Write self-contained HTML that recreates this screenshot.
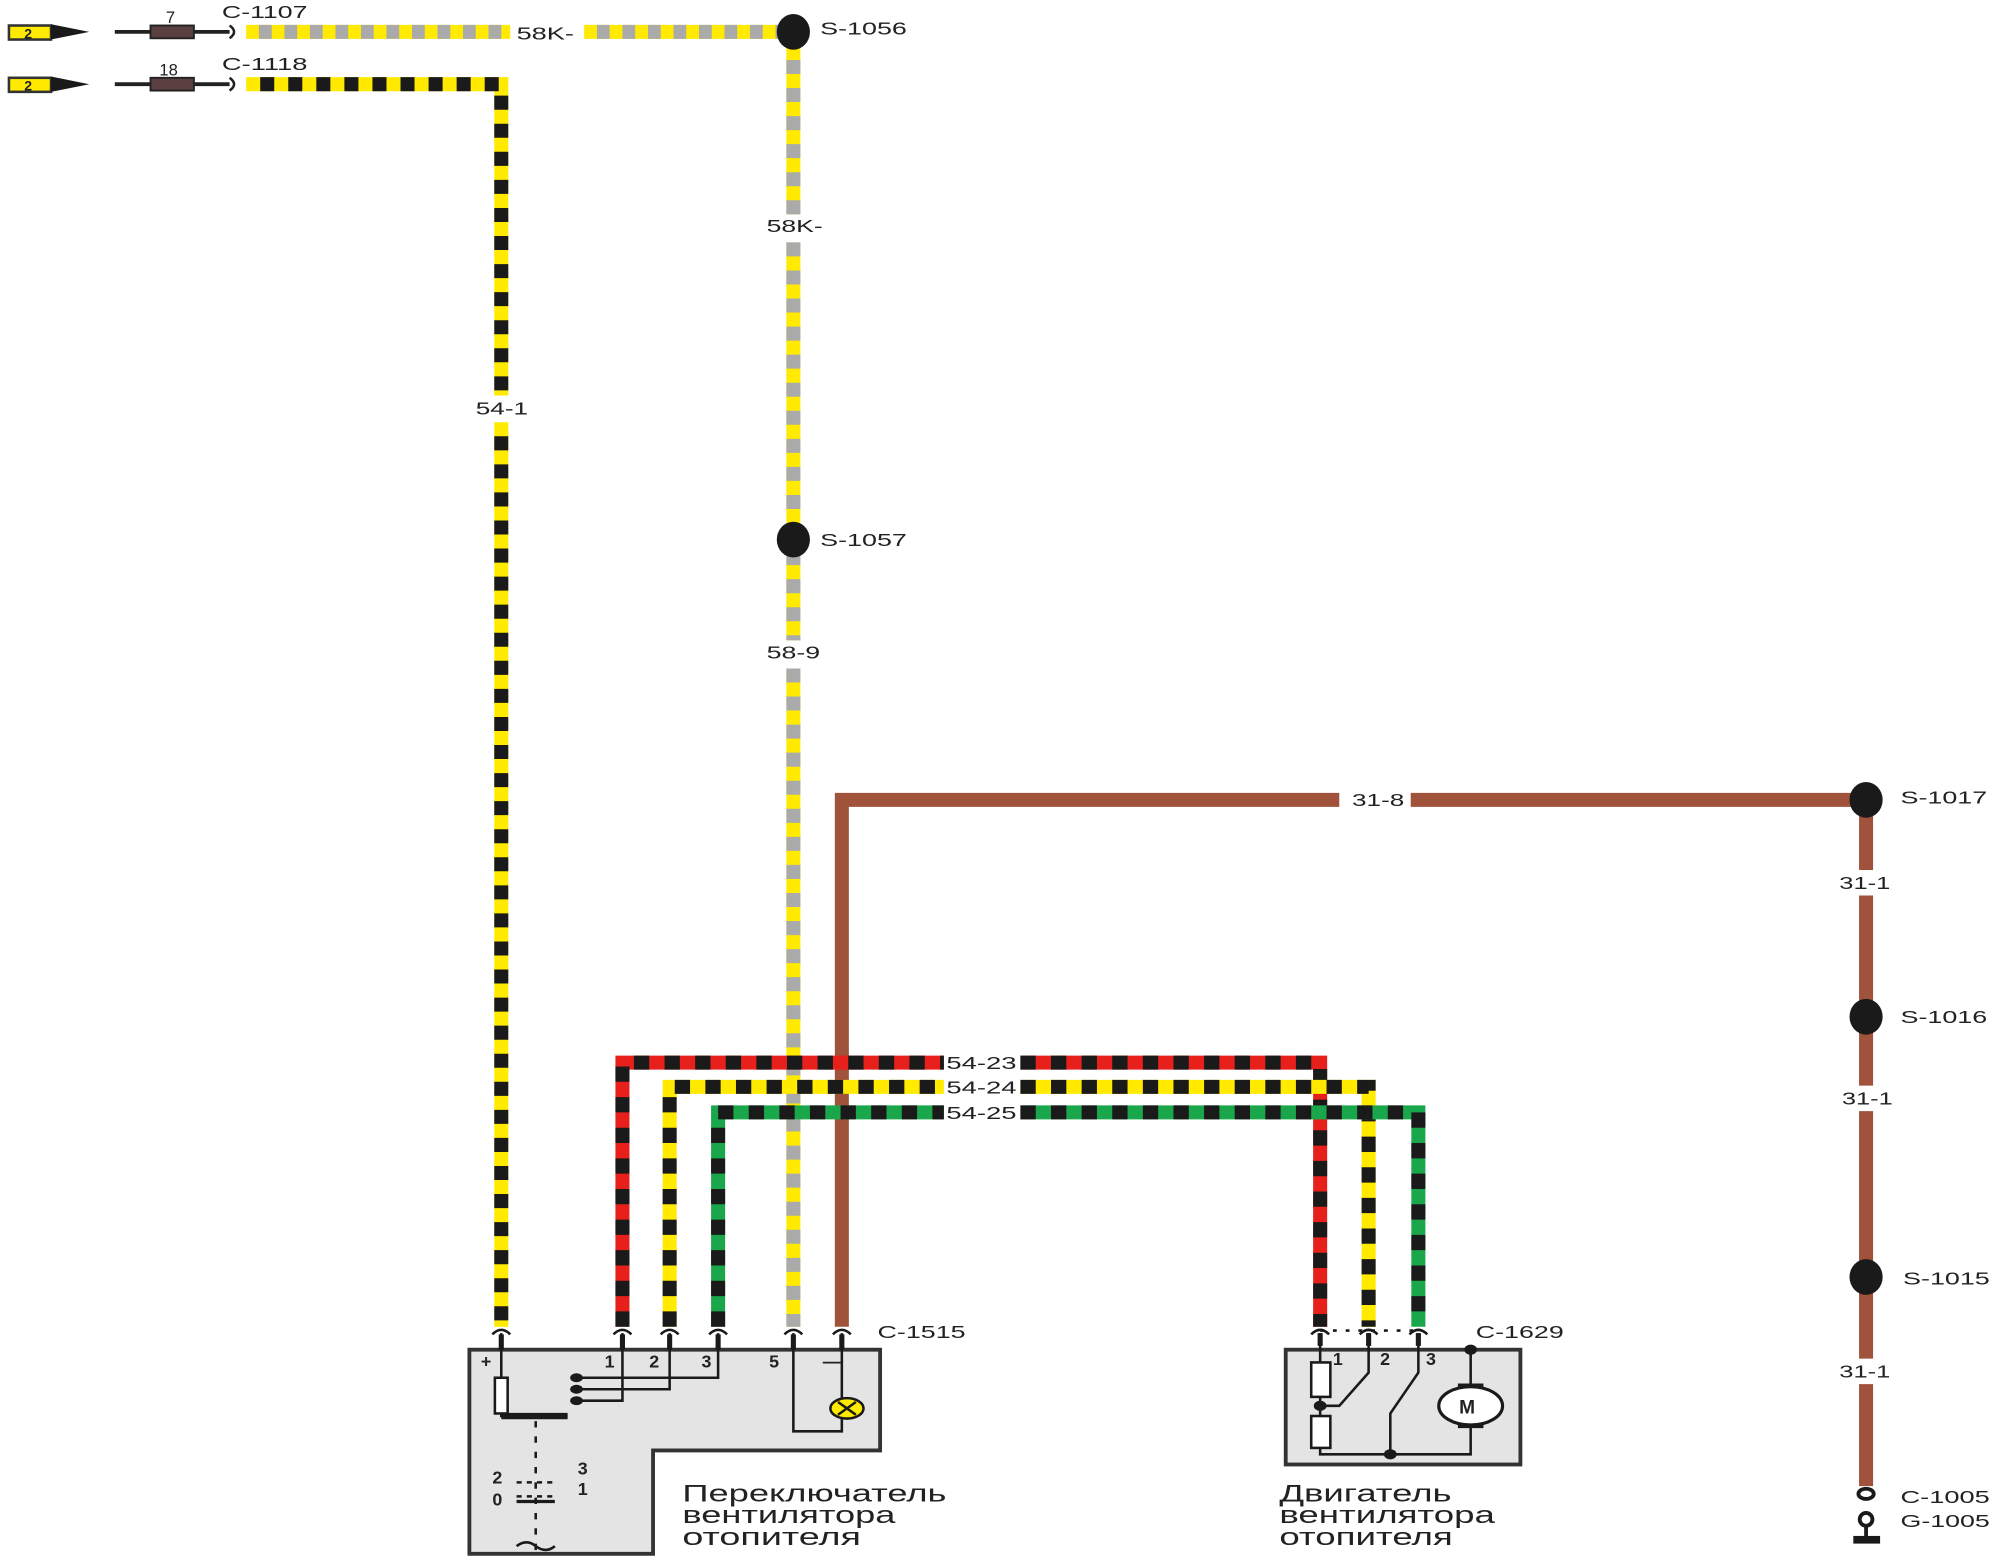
<!DOCTYPE html>
<html><head><meta charset="utf-8"><style>
html,body{margin:0;padding:0;background:#fff;}
svg{display:block;}
text{font-family:"Liberation Sans",Arial,sans-serif;fill:#222;}
</style></head><body>
<svg width="2000" height="1564" viewBox="0 0 1568 1226" preserveAspectRatio="none" xmlns="http://www.w3.org/2000/svg">
<rect width="1568" height="1226" fill="#fff"/>
<g fill="none" stroke-width="11" stroke-linejoin="miter">
<path d="M193 25 H400 M458 25 H612" stroke="#ffea00"/>
<path d="M193 25 H400 M458 25 H612" stroke="#aaa" stroke-dasharray="10 10" stroke-dashoffset="-10"/>
<path d="M193 66 H393 V310 M393 331 V1040" stroke="#ffea00"/>
<path d="M193 66 H393 V310 M393 331 V1040" stroke="#1a1a1a" stroke-dasharray="11 11" stroke-dashoffset="-11"/>
<path d="M622 25 V168 M622 190 V502 M622 524 V1040" stroke="#ffea00"/>
<path d="M622 25 V168 M622 190 V502 M622 524 V1040" stroke="#aaa" stroke-dasharray="11 11"/>
<path d="M660 1040 V627 H1050 M1106 627 H1463 V682 M1463 702 V851 M1463 871 V1065 M1463 1085 V1165" stroke="#a0523a"/>
<path d="M488 1040 V833 H740 M800 833 H1035 V1040" stroke="#e8201c"/>
<path d="M488 1040 V833 H740 M800 833 H1035 V1040" stroke="#1a1a1a" stroke-dasharray="12 12"/>
<path d="M525 1040 V852 H740 M800 852 H1073 V1040" stroke="#ffea00"/>
<path d="M525 1040 V852 H740 M800 852 H1073 V1040" stroke="#1a1a1a" stroke-dasharray="12 12"/>
<path d="M563 1040 V872 H740 M800 872 H1112 V1040" stroke="#1aa64a"/>
<path d="M563 1040 V872 H740 M800 872 H1112 V1040" stroke="#1a1a1a" stroke-dasharray="12 12"/>
</g>
<g fill="#1a1a1a">
<ellipse cx="622" cy="25" rx="13" ry="14"/>
<ellipse cx="622" cy="423" rx="13" ry="14"/>
<ellipse cx="1463" cy="627" rx="13" ry="14"/>
<ellipse cx="1463" cy="797" rx="13" ry="14"/>
<ellipse cx="1463" cy="1001" rx="13" ry="14"/>
</g>
<ellipse cx="1463" cy="1171" rx="6" ry="4" fill="#fff" stroke="#1a1a1a" stroke-width="3"/>
<circle cx="1463" cy="1191" r="5" fill="#fff" stroke="#1a1a1a" stroke-width="3"/>
<path d="M1463 1196 V1205" stroke="#1a1a1a" stroke-width="3"/>
<rect x="1453" y="1204" width="21" height="6" fill="#1a1a1a"/>
<g>
<rect x="7" y="20" width="33" height="11" fill="#ffea00" stroke="#333" stroke-width="2"/>
<path d="M40 19 L70 25 L40 31 Z" fill="#1a1a1a"/>
<text x="19" y="30" font-size="11" font-weight="bold">2</text>
<rect x="7" y="61" width="33" height="11" fill="#ffea00" stroke="#333" stroke-width="2"/>
<path d="M40 60 L70 66 L40 72 Z" fill="#1a1a1a"/>
<text x="19" y="71" font-size="11" font-weight="bold">2</text>
<path d="M90 25 H180 M90 66 H180" stroke="#222" stroke-width="3"/>
<rect x="118" y="20" width="34" height="10" fill="#5a4040" stroke="#222" stroke-width="1.5"/>
<rect x="118" y="61" width="34" height="10" fill="#5a4040" stroke="#222" stroke-width="1.5"/>
<path d="M180 20 Q187 25 180 30 M180 61 Q187 66 180 71" fill="none" stroke="#222" stroke-width="2"/>
</g>
<g font-size="14" lengthAdjust="spacingAndGlyphs">
<text x="130" y="18" font-size="13">7</text>
<text x="125" y="59" font-size="13">18</text>
<text x="174" y="14" textLength="67" lengthAdjust="spacingAndGlyphs">C-1107</text>
<text x="174" y="55" textLength="67" lengthAdjust="spacingAndGlyphs">C-1118</text>
<text x="405" y="31" textLength="45" lengthAdjust="spacingAndGlyphs">58K-</text>
<text x="643" y="27" textLength="68" lengthAdjust="spacingAndGlyphs">S-1056</text>
<text x="601" y="182" textLength="44" lengthAdjust="spacingAndGlyphs">58K-</text>
<text x="643" y="428" textLength="68" lengthAdjust="spacingAndGlyphs">S-1057</text>
<text x="601" y="516" textLength="42" lengthAdjust="spacingAndGlyphs">58-9</text>
<text x="373" y="325" textLength="41" lengthAdjust="spacingAndGlyphs">54-1</text>
<text x="1060" y="632" textLength="41" lengthAdjust="spacingAndGlyphs">31-8</text>
<text x="1490" y="630" textLength="68" lengthAdjust="spacingAndGlyphs">S-1017</text>
<text x="1442" y="697" textLength="40" lengthAdjust="spacingAndGlyphs">31-1</text>
<text x="1490" y="802" textLength="68" lengthAdjust="spacingAndGlyphs">S-1016</text>
<text x="1444" y="866" textLength="40" lengthAdjust="spacingAndGlyphs">31-1</text>
<text x="1492" y="1007" textLength="68" lengthAdjust="spacingAndGlyphs">S-1015</text>
<text x="1442" y="1080" textLength="40" lengthAdjust="spacingAndGlyphs">31-1</text>
<text x="1490" y="1178" textLength="70" lengthAdjust="spacingAndGlyphs">C-1005</text>
<text x="1490" y="1197" textLength="70" lengthAdjust="spacingAndGlyphs">G-1005</text>
<text x="742" y="838" textLength="55" lengthAdjust="spacingAndGlyphs">54-23</text>
<text x="742" y="857" textLength="55" lengthAdjust="spacingAndGlyphs">54-24</text>
<text x="742" y="877" textLength="55" lengthAdjust="spacingAndGlyphs">54-25</text>
<text x="688" y="1049" textLength="69" lengthAdjust="spacingAndGlyphs">C-1515</text>
<text x="1157" y="1049" textLength="69" lengthAdjust="spacingAndGlyphs">C-1629</text>
</g>
<path d="M368 1058 H690 V1137 H512 V1218 H368 Z" fill="#e4e4e4" stroke="#333" stroke-width="3"/>
<g stroke="#1a1a1a" stroke-width="2" fill="none">
<path d="M393 1045 V1110 H445"/>
<path d="M488 1045 V1098 H455 M525 1045 V1089 H455 M563 1045 V1080 H455"/>
<path d="M622 1045 V1122 H660 V1045"/>
</g>
<path d="M393 1110 H445" stroke="#1a1a1a" stroke-width="5"/>
<rect x="388" y="1080" width="10" height="28" fill="#fff" stroke="#1a1a1a" stroke-width="2"/>
<g fill="#1a1a1a"><ellipse cx="452" cy="1080" rx="5" ry="3.5"/><ellipse cx="452" cy="1089" rx="5" ry="3.5"/><ellipse cx="452" cy="1098" rx="5" ry="3.5"/></g>
<ellipse cx="664" cy="1104" rx="13" ry="8" fill="#ffea00" stroke="#1a1a1a" stroke-width="2"/>
<path d="M657 1099 L671 1109 M671 1099 L657 1109" stroke="#1a1a1a" stroke-width="2"/>
<path d="M420 1114 V1215" stroke="#1a1a1a" stroke-width="2" stroke-dasharray="5 7"/>
<path d="M405 1173 H435 M405 1162 H435" stroke="#1a1a1a" stroke-width="2" stroke-dasharray="4 4"/>
<path d="M405 1177 H435" stroke="#1a1a1a" stroke-width="2.5"/>
<path d="M405 1212 Q413 1206 420 1212 Q428 1218 435 1212" stroke="#1a1a1a" stroke-width="2" fill="none"/>
<g font-size="14" font-weight="bold">
<text x="377" y="1072">+</text><text x="474" y="1072">1</text><text x="509" y="1072">2</text><text x="550" y="1072">3</text><text x="603" y="1072">5</text><text x="645" y="1072">—</text>
<text x="386" y="1163">2</text><text x="386" y="1180">0</text><text x="453" y="1156">3</text><text x="453" y="1172">1</text>
</g>
<rect x="1008" y="1058" width="184" height="90" fill="#e4e4e4" stroke="#333" stroke-width="3"/>
<path d="M1035 1045 V1055 M1073 1045 V1055 M1112 1045 V1055" stroke="#1a1a1a" stroke-width="4"/>
<path d="M1035 1043 H1112" stroke="#1a1a1a" stroke-width="2" stroke-dasharray="3 7"/>
<g stroke="#1a1a1a" stroke-width="2" fill="none">
<path d="M1035 1045 V1068 M1035 1095 V1110 M1035 1135 V1140 H1153 V1058"/>
<path d="M1073 1045 V1076 L1050 1102 H1035"/>
<path d="M1112 1045 V1076 L1090 1108 V1140"/>
</g>
<rect x="1028" y="1068" width="15" height="27" fill="#fff" stroke="#1a1a1a" stroke-width="2"/>
<rect x="1028" y="1110" width="15" height="25" fill="#fff" stroke="#1a1a1a" stroke-width="2"/>
<g fill="#1a1a1a"><ellipse cx="1035" cy="1102" rx="5" ry="4"/><ellipse cx="1090" cy="1140" rx="5" ry="4"/><ellipse cx="1153" cy="1058" rx="5" ry="4"/></g>
<ellipse cx="1153" cy="1102" rx="25" ry="15" fill="#fff" stroke="#1a1a1a" stroke-width="2.5"/>
<path d="M1143 1086 H1163 M1143 1118 H1163" stroke="#1a1a1a" stroke-width="3"/>
<text x="1144" y="1108" font-size="15" font-weight="bold" font-family="Liberation Serif,serif">M</text>
<g font-size="14" font-weight="bold"><text x="1045" y="1070">1</text><text x="1082" y="1070">2</text><text x="1118" y="1070">3</text></g>
<g stroke="#1a1a1a" stroke-width="2" fill="none">
<path d="M386 1046 Q393 1039 400 1046 M481 1046 Q488 1039 495 1046 M518 1046 Q525 1039 532 1046 M556 1046 Q563 1039 570 1046 M615 1046 Q622 1039 629 1046 M653 1046 Q660 1039 667 1046 M1028 1046 Q1035 1039 1042 1046 M1066 1046 Q1073 1039 1080 1046 M1105 1046 Q1112 1039 1119 1046"/>
</g>
<path d="M393 1046 V1058 M488 1046 V1058 M525 1046 V1058 M563 1046 V1058 M622 1046 V1058 M660 1046 V1058" stroke="#1a1a1a" stroke-width="4"/>
<g font-size="19">
<text x="535" y="1177" textLength="207" lengthAdjust="spacingAndGlyphs">Переключатель</text>
<text x="535" y="1194" textLength="167" lengthAdjust="spacingAndGlyphs">вентилятора</text>
<text x="535" y="1211" textLength="140" lengthAdjust="spacingAndGlyphs">отопителя</text>
<text x="1003" y="1177" textLength="135" lengthAdjust="spacingAndGlyphs">Двигатель</text>
<text x="1003" y="1194" textLength="169" lengthAdjust="spacingAndGlyphs">вентилятора</text>
<text x="1003" y="1211" textLength="136" lengthAdjust="spacingAndGlyphs">отопителя</text>
</g>
</svg>
</body></html>
